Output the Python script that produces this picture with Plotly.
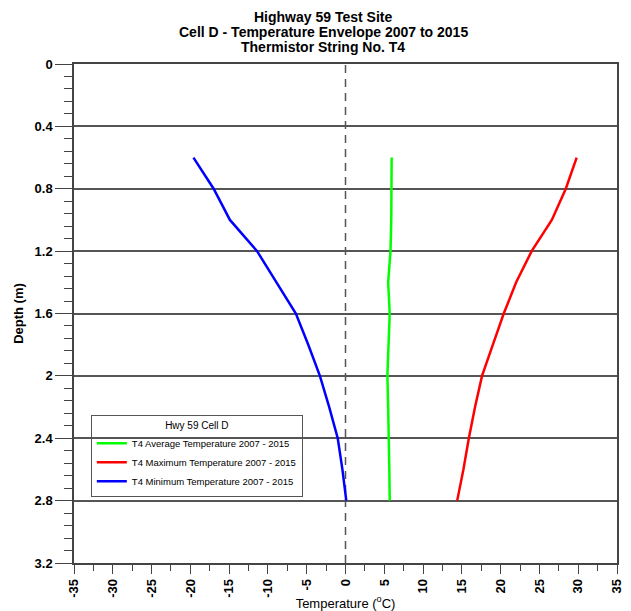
import plotly.graph_objects as go

depth = [0.6, 0.8, 1.0, 1.2, 1.4, 1.6, 1.8, 2.0, 2.2, 2.4, 2.6, 2.8]
avg_temp = [5.95, 5.95, 5.9, 5.8, 5.5, 5.7, 5.55, 5.4, 5.5, 5.6, 5.65, 5.7]
max_temp = [29.8, 28.4, 26.6, 24.0, 22.0, 20.4, 19.0, 17.6, 16.7, 15.9, 15.2, 14.4]
min_temp = [-19.6, -17.0, -14.9, -11.4, -8.9, -6.4, -4.8, -3.3, -2.1, -1.0, -0.4, 0.1]

series_names = ["T4 Average Temperature 2007 - 2015",
                "T4 Maximum Temperature 2007 - 2015",
                "T4 Minimum Temperature 2007 - 2015"]
series_colors = ["#00ff00", "#ff0000", "#0000ff"]

title_lines = ["Highway 59 Test Site",
               "Cell D - Temperature Envelope 2007 to 2015",
               "Thermistor String No. T4"]

y_tickvals = [0, 0.4, 0.8, 1.2, 1.6, 2.0, 2.4, 2.8, 3.2]
y_ticktext = ["0", "0.4", "0.8", "1.2", "1.6", "2", "2.4", "2.8", "3.2"]
x_tickvals = [-35, -30, -25, -20, -15, -10, -5, 0, 5, 10, 15, 20, 25, 30, 35]
x_ticktext = [str(v) for v in x_tickvals]

FONT = "Liberation Sans, Arial, sans-serif"
AX = "#444444"

fig = go.Figure()
for name, vals, col in zip(series_names, [avg_temp, max_temp, min_temp], series_colors):
    fig.add_trace(go.Scatter(x=vals, y=depth, mode="lines", name=name,
                             line=dict(color=col, width=2.5)))

fig.add_shape(type="line", xref="x", yref="paper", x0=0, x1=0, y0=0, y1=1,
              line=dict(color="#555555", width=1.5, dash="8px,6px"), layer="below")

# title lines (plot area is 499 px tall)
for i, line in enumerate(title_lines):
    fig.add_annotation(text="<b>" + line + "</b>", xref="paper", yref="paper",
                       x=0.4586, y=1 + (47 - 15 * i) / 499, xanchor="center", yanchor="middle",
                       showarrow=False, font=dict(size=14, family=FONT, color="black"))

fig.update_layout(
    width=623, height=603,
    margin=dict(l=66, r=14, t=56, b=48),
    paper_bgcolor="white", plot_bgcolor="white",
    font=dict(family=FONT, color="black"),
    showlegend=True,
    legend=dict(x=0.031, y=0.297, xanchor="left", yanchor="top",
                bgcolor="rgba(255,255,255,0)", bordercolor="#555555", borderwidth=1,
                font=dict(size=9.5, family=FONT, color="black"),
                title=dict(text="Hwy 59 Cell D", side="top center",
                           font=dict(size=10, family=FONT, color="black")),
                tracegroupgap=0, itemwidth=30),
    xaxis=dict(range=[-35, 35], tickmode="array", tickvals=x_tickvals, ticktext=x_ticktext,
               tickangle=-90, ticks="outside", ticklen=9, tickwidth=1.2, tickcolor=AX,
               tickfont=dict(size=13, family=FONT, color="black", weight="bold"),
               showgrid=False, zeroline=False,
               showline=True, linecolor=AX, linewidth=1.5, mirror=True,
               minor=dict(dtick=2.5, ticks="outside", ticklen=6, tickwidth=1.2, tickcolor=AX, showgrid=False),
               title=dict(text="Temperature (<sup>o</sup>C)", standoff=2,
                          font=dict(size=13, family=FONT, color="black")),
               automargin=False),
    yaxis=dict(range=[3.2, 0], tickmode="array", tickvals=y_tickvals, ticktext=y_ticktext,
               ticks="outside", ticklen=17, tickwidth=1.2, tickcolor=AX,
               tickfont=dict(size=13, family=FONT, color="black", weight="bold"),
               showgrid=True, gridcolor="#555555", gridwidth=1.5, zeroline=False,
               showline=True, linecolor=AX, linewidth=1.5, mirror=True,
               minor=dict(dtick=0.08, tick0=0, ticks="outside", ticklen=8, tickwidth=1.2, tickcolor=AX, showgrid=False),
               title=dict(text="<b>Depth (m)</b>", standoff=8,
                          font=dict(size=13, family=FONT, color="black")),
               automargin=False),
)

fig.write_html("out.html")
